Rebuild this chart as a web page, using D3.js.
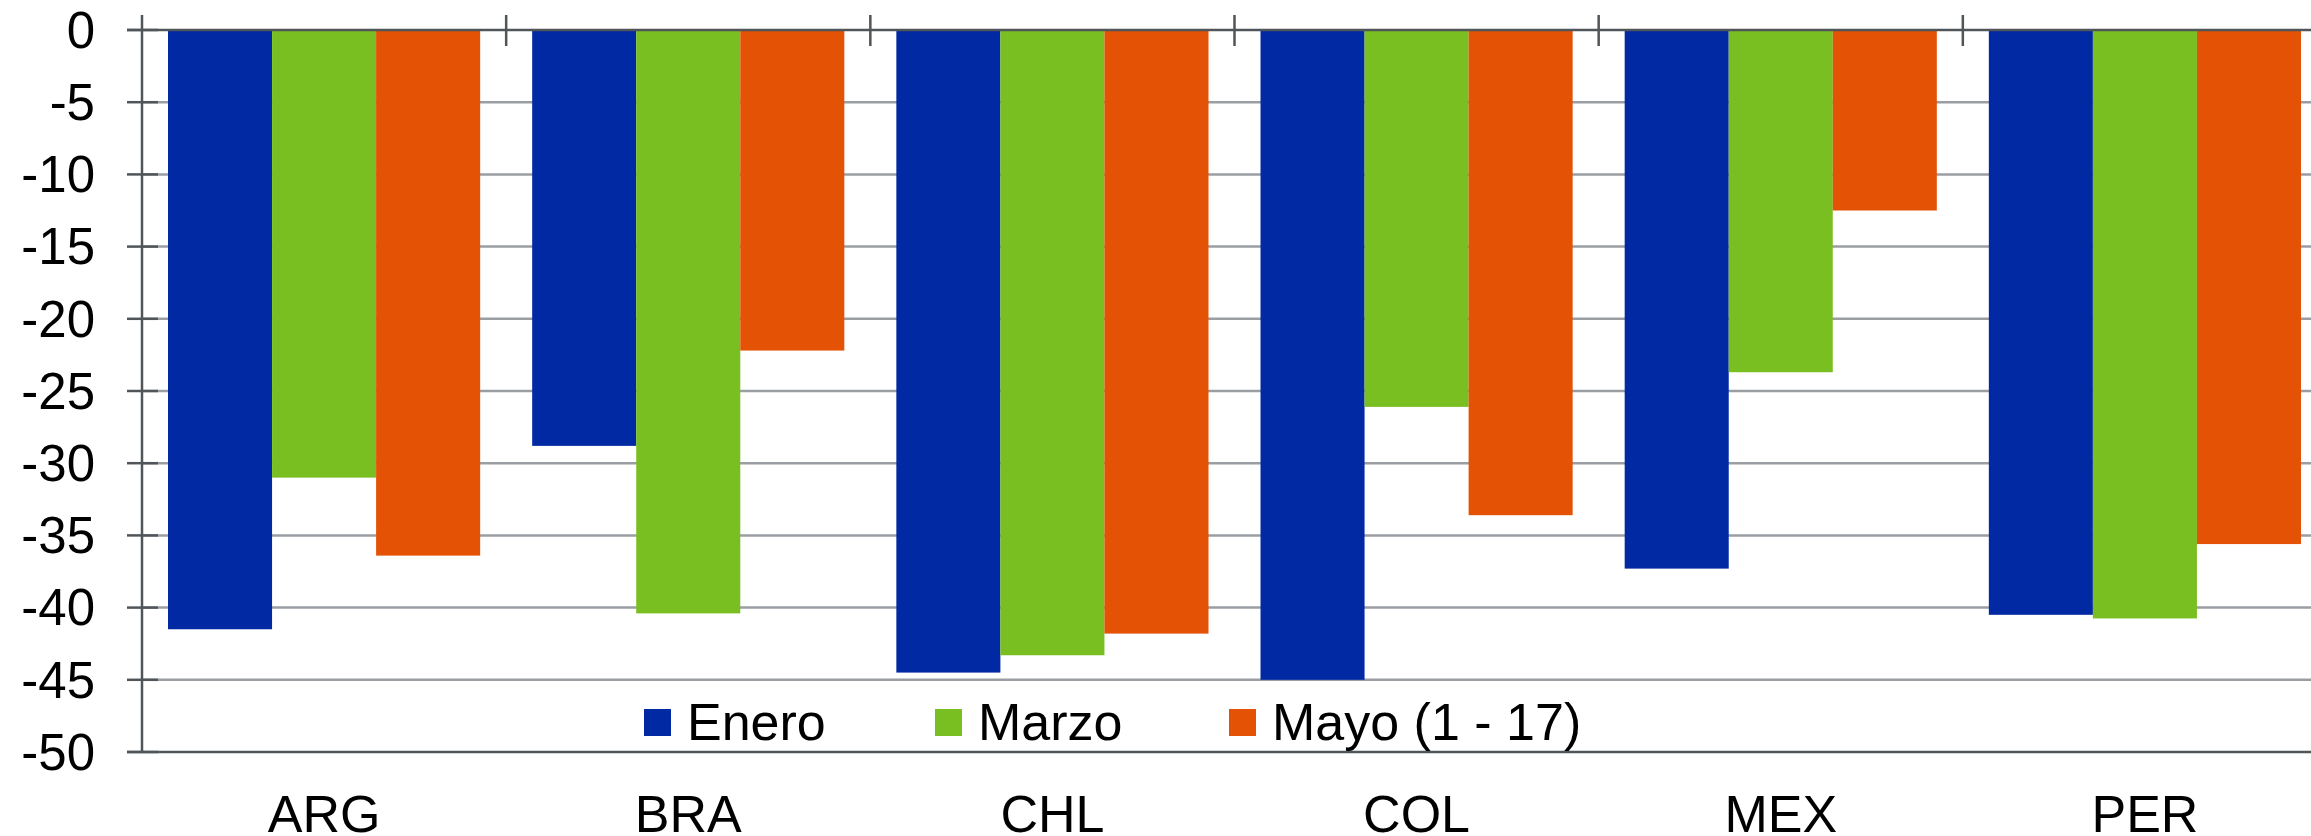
<!DOCTYPE html>
<html>
<head>
<meta charset="utf-8">
<script src="https://cdn.jsdelivr.net/npm/d3@7"></script>
<style>
  html, body { margin: 0; padding: 0; background: #fff; overflow: hidden; }
  svg { display: block; font-family: Arial, "Liberation Sans", sans-serif; }
</style>
</head>
<body>
<svg id="chart" width="2311" height="836"></svg>
<script>
// ---- data ----
const categories = ["ARG", "BRA", "CHL", "COL", "MEX", "PER"];
const seriesNames = ["Enero", "Marzo", "Mayo (1 - 17)"];
const enero = [-41.5, -28.8, -44.5, -45.0, -37.3, -40.5];
const marzo = [-31.0, -40.4, -43.3, -26.1, -23.7, -40.75];
const mayo  = [-36.4, -22.2, -41.8, -33.6, -12.5, -35.6];
const yTickValues = [0, -5, -10, -15, -20, -25, -30, -35, -40, -45, -50];
const colors = ["#0029A3", "#7ABF21", "#E35205"];

const seriesValues = [enero, marzo, mayo];

(function () {
  // ---- layout ----
  const svg = d3.select("#chart");
  const plotLeft = 142, plotRight = 2327, plotTop = 30, plotBottom = 752;

  const x0 = d3.scaleBand().domain(categories).range([plotLeft, plotRight]).paddingInner(0).paddingOuter(0);
  const x1 = d3.scaleBand().domain(seriesNames).range([0, x0.bandwidth()]).paddingInner(0).paddingOuter(0.25);
  const y = d3.scaleLinear().domain([-50, 0]).range([plotBottom, plotTop]);

  const gridColor = "#9a9ea3";
  const axisColor = "#50555a";

  // gridlines
  svg.append("g").selectAll("line")
    .data(yTickValues.filter(v => v !== 0 && v !== -50))
    .join("line")
    .attr("x1", plotLeft).attr("x2", 2311)
    .attr("y1", d => y(d)).attr("y2", d => y(d))
    .attr("stroke", gridColor).attr("stroke-width", 2.5);

  // bars
  const data = [];
  categories.forEach((c, i) => {
    seriesNames.forEach((s, j) => {
      data.push({ cat: c, series: s, value: seriesValues[j][i], color: colors[j] });
    });
  });

  svg.append("g").selectAll("rect")
    .data(data)
    .join("rect")
    .attr("x", d => x0(d.cat) + x1(d.series))
    .attr("width", x1.bandwidth())
    .attr("y", y(0))
    .attr("height", d => y(d.value) - y(0))
    .attr("fill", d => d.color);

  // axes lines
  const axes = svg.append("g");
  axes.append("line")
    .attr("x1", plotLeft - 15).attr("x2", 2311)
    .attr("y1", y(0)).attr("y2", y(0))
    .attr("stroke", axisColor).attr("stroke-width", 2.5);
  axes.append("line")
    .attr("x1", plotLeft - 15).attr("x2", 2311)
    .attr("y1", y(-50)).attr("y2", y(-50))
    .attr("stroke", axisColor).attr("stroke-width", 2.5);
  axes.append("line")
    .attr("x1", plotLeft).attr("x2", plotLeft)
    .attr("y1", y(0) - 15).attr("y2", y(-50))
    .attr("stroke", axisColor).attr("stroke-width", 2.5);
  axes.selectAll("line.ytick")
    .data(yTickValues)
    .join("line")
    .attr("class", "ytick")
    .attr("x1", plotLeft - 15).attr("x2", plotLeft + 16)
    .attr("y1", d => y(d)).attr("y2", d => y(d))
    .attr("stroke", axisColor).attr("stroke-width", 2.5);
  axes.selectAll("line.xtick")
    .data(categories.slice(1))
    .join("line")
    .attr("class", "xtick")
    .attr("x1", d => x0(d)).attr("x2", d => x0(d))
    .attr("y1", y(0) - 15).attr("y2", y(0) + 16)
    .attr("stroke", axisColor).attr("stroke-width", 2.5);

  // y labels
  svg.append("g").selectAll("text")
    .data(yTickValues)
    .join("text")
    .attr("x", 95)
    .attr("y", d => y(d))
    .attr("dy", "0.35em")
    .attr("text-anchor", "end")
    .attr("font-size", 51)
    .attr("fill", "#000")
    .text(d => d);

  // x labels
  svg.append("g").selectAll("text")
    .data(categories)
    .join("text")
    .attr("x", d => x0(d) + x0.bandwidth() / 2)
    .attr("y", 832)
    .attr("text-anchor", "middle")
    .attr("font-size", 52)
    .attr("fill", "#000")
    .text(d => d);

  // legend
  const legendX = [644, 935, 1229];
  const leg = svg.append("g");
  seriesNames.forEach((s, j) => {
    leg.append("rect")
      .attr("x", legendX[j]).attr("y", 709)
      .attr("width", 27).attr("height", 27)
      .attr("fill", colors[j]);
    leg.append("text")
      .attr("x", legendX[j] + 43).attr("y", 740)
      .attr("font-size", 52)
      .attr("fill", "#000")
      .text(s);
  });
})();
</script>
</body>
</html>
